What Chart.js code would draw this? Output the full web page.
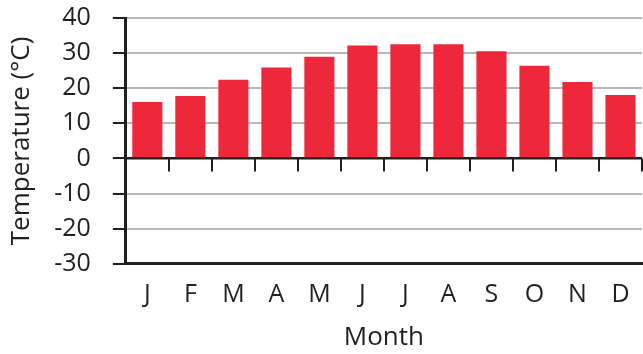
<!DOCTYPE html>
<html>
<head>
<meta charset="utf-8">
<script src="https://cdn.jsdelivr.net/npm/chart.js@4"></script>
<style>
  html, body { margin: 0; padding: 0; background: #fff; }
  #wrap { width: 643px; height: 354px; }
</style>
</head>
<body>
<div id="wrap"><canvas id="tempChart"></canvas></div>
<script>
// Monthly mean temperature
const months = ['J', 'F', 'M', 'A', 'M', 'J', 'J', 'A', 'S', 'O', 'N', 'D'];
const temps = [16.1, 17.8, 22.4, 25.9, 29.0, 32.2, 32.5, 32.5, 30.5, 26.4, 21.8, 18.1];
const yMin = -30;
const yMax = 40;
const yStep = 10;

const ink = '#231f20';
const barRed = '#ec283a';
const gridGray = '#b8b8b0';
const tickFont = { family: '"Open Sans", sans-serif', size: 25 };
const titleFont = { family: '"Open Sans", sans-serif', size: 26 };

// little tick marks hanging under the zero line, between the months
const zeroTicks = {
  id: 'zeroTicks',
  afterDatasetsDraw(chart) {
    const x = chart.scales.x;
    const y = chart.scales.y;
    const y0 = y.getPixelForValue(0);
    const step = x.width / months.length;
    const c = chart.ctx;
    c.save();
    c.strokeStyle = ink;
    c.lineWidth = 2;
    c.beginPath();
    for (let i = 1; i <= months.length; i++) {
      const px = Math.round(x.getPixelForValue(i - 1) + step / 2);
      c.moveTo(px, y0);
      c.lineTo(px, y0 + 13);
    }
    c.moveTo(x.left, y0);
    c.lineTo(x.right, y0);
    c.stroke();
    c.restore();
  }
};

new Chart(document.getElementById('tempChart').getContext('2d'), {
  type: 'bar',
  data: {
    labels: months,
    datasets: [{
      data: temps,
      backgroundColor: barRed,
      borderWidth: 0,
      barPercentage: 0.7,
      categoryPercentage: 1
    }]
  },
  options: {
    responsive: true,
    maintainAspectRatio: false,
    animation: false,
    layout: { padding: { top: 0, right: 1, left: 0, bottom: 1 } },
    plugins: {
      legend: { display: false },
      tooltip: { enabled: false }
    },
    scales: {
      x: {
        type: 'category',
        position: 'bottom',
        offset: true,
        grid: { display: false, drawTicks: false },
        border: { display: true, color: ink, width: 3 },
        ticks: { color: ink, font: tickFont, padding: 16, maxRotation: 0, autoSkip: false },
        title: { display: true, text: 'Month', color: ink, font: titleFont, padding: { top: -4, bottom: 0 } },
        afterFit: s => { s.paddingLeft = 0; s.paddingRight = 0; }
      },
      y: {
        min: yMin,
        max: yMax,
        ticks: { stepSize: yStep, color: ink, font: tickFont, padding: 22, autoSkip: false },
        grid: {
          color: c => (c.tick && c.tick.value === 0) ? ink : gridGray,
          lineWidth: 2,
          tickColor: ink,
          tickLength: 13
        },
        border: { display: true, color: ink, width: 3 },
        title: { display: true, text: 'Temperature (°C)', color: ink, font: titleFont, padding: { top: 6, bottom: -5 } },
        afterFit: s => { s.paddingTop = 18; s.paddingBottom = 0; }
      }
    }
  },
  plugins: [zeroTicks]
});
</script>
</body>
</html>
